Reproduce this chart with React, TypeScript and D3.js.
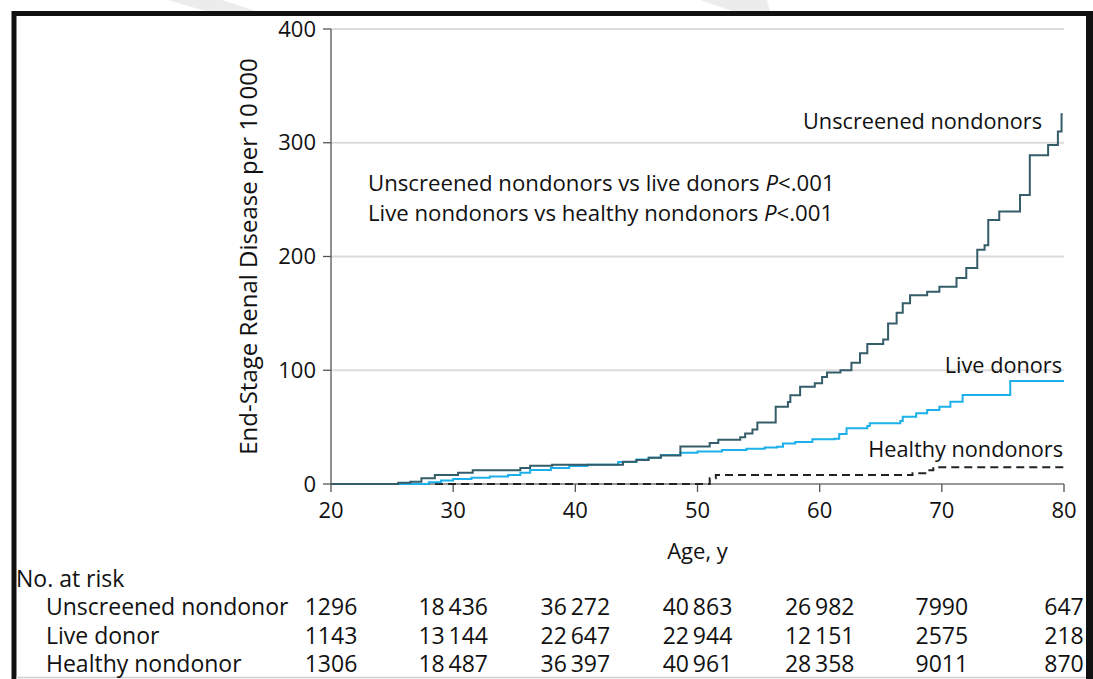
import React from "react";
import * as d3 from "d3";

const W = 1093;
const H = 679;

const xTicks = [20, 30, 40, 50, 60, 70, 80];
const yTicks = [0, 100, 200, 300, 400];

const unscreened: [number, number][] = [
  [20, 0], [25.5, 1], [26.5, 2], [27.4, 5], [28.5, 8], [30.4, 10], [31.6, 12], [35.5, 14], [36.3, 16],
  [38.1, 17], [43.9, 19.5], [45, 21], [46, 23], [47, 25], [48.6, 33], [51, 36], [51.7, 39], [53.5, 41],
  [53.9, 44.5], [54.5, 48], [54.9, 54], [56.4, 68], [57.4, 72], [57.6, 78], [58.4, 85.5], [59.6, 88.5],
  [60.2, 94], [60.6, 98], [61.7, 100], [62.6, 106.5], [63.3, 115], [63.9, 123], [65.2, 127], [65.6, 141],
  [66.3, 150.5], [66.8, 159], [67.4, 166], [68.8, 169], [69.8, 173.5], [71.2, 181], [72, 190], [72.9, 206],
  [73.5, 210], [73.8, 232], [74.7, 239.5], [76.4, 254], [77.2, 289], [78.7, 298], [79.5, 310], [79.8, 325],
  [79.9, 325],
];

const liveDonors: [number, number][] = [
  [20, 0], [27.3, 0], [28, 1.5], [29, 3], [30, 4.4], [31.5, 5.5], [33, 6.5], [34.5, 7.9], [35.5, 10],
  [36.3, 12.3], [38, 14], [39.5, 15.8], [41, 17], [43.5, 19.3], [45, 21.5], [46, 23], [47, 25.5],
  [48.6, 27.5], [50, 28.5], [52, 30], [54, 31], [55.5, 32], [56.5, 32.8], [57, 35.7], [58, 37],
  [59.4, 39.3], [61.2, 39.8], [61.6, 44], [62.2, 49], [63.9, 51], [64.1, 53.4], [66.6, 55.4],
  [66.8, 59.2], [67.9, 62.1], [68.8, 65], [69.8, 68], [70.7, 72.4], [71.7, 78.2], [75.6, 90.5], [80, 90.5],
];

const healthy: [number, number][] = [
  [20, 0], [50.5, 0], [51, 5], [51.5, 7.9], [67.6, 9.4], [68.8, 12], [69.3, 14.7], [80, 14.7],
];

const riskLabels = ["Unscreened nondonor", "Live donor", "Healthy nondonor"];
const riskUnscreened = ["1296", "18\u2009436", "36\u2009272", "40\u2009863", "26\u2009982", "7990", "647"];
const riskLive = ["1143", "13\u2009144", "22\u2009647", "22\u2009944", "12\u2009151", "2575", "218"];
const riskHealthy = ["1306", "18\u2009487", "36\u2009397", "40\u2009961", "28\u2009358", "9011", "870"];

const FONT = "'Open Sans', 'DejaVu Sans', sans-serif";
const DARK = "#355c69";
const BLUE = "#1bb0ea";

export default function App() {
  const x = d3.scaleLinear().domain([20, 80]).range([331, 1064]);
  const y = d3.scaleLinear().domain([0, 400]).range([484, 29]);
  const line = d3
    .line<[number, number]>()
    .x((d) => x(d[0]))
    .y((d) => y(d[1]))
    .curve(d3.curveStepAfter);
  const rows = [riskUnscreened, riskLive, riskHealthy];

  return (
    <svg
      width={W}
      height={H}
      style={{ position: "absolute", left: 0, top: 0, background: "#fff" }}
      fontFamily={FONT}
    >
      <rect x={0} y={0} width={W} height={H} fill="#fff" />
      {/* faint watermark stripes */}
      <polygon points="168,0 222,0 262,13 212,13" fill="#ececec" />
      <polygon points="700,0 767,0 770,12 735,12" fill="#ececec" />
      {/* frame */}
      <path d={`M14,${H} V13.5 H1089.5 V${H}`} fill="none" stroke="#111" strokeWidth={5} />
      <rect x={1086} y={11} width={7} height={H} fill="#111" />
      <line x1={16} x2={1086} y1={677.5} y2={677.5} stroke="#cfcfcf" strokeWidth={1.5} />

      {/* grid */}
      {yTicks.filter((t) => t > 0).map((t) => (
        <line key={t} x1={x(20)} x2={x(80)} y1={y(t)} y2={y(t)} stroke="#dcdcdc" strokeWidth={2} />
      ))}
      {/* axes */}
      <line x1={x(20)} x2={x(20)} y1={y(400)} y2={y(0)} stroke="#555" strokeWidth={1.3} />
      <line x1={x(20)} x2={x(80)} y1={y(0)} y2={y(0)} stroke="#777" strokeWidth={1.3} />
      {yTicks.map((t) => (
        <g key={t}>
          <line x1={x(20) - 8} x2={x(20)} y1={y(t)} y2={y(t)} stroke="#555" strokeWidth={1.3} />
          <text x={316} y={y(t)} dy="0.35em" textAnchor="end" fontSize={22} fill="#111">
            {t}
          </text>
        </g>
      ))}
      {xTicks.map((t) => (
        <g key={t}>
          <line x1={x(t)} x2={x(t)} y1={y(0)} y2={y(0) + 8} stroke="#555" strokeWidth={1.3} />
          <text x={x(t)} y={518} textAnchor="middle" fontSize={22} fill="#111">
            {t}
          </text>
        </g>
      ))}
      <text x={x(50)} y={559} textAnchor="middle" fontSize={22} fill="#111">
        Age, y
      </text>
      <text
        transform={`translate(257,${(y(0) + y(400)) / 2}) rotate(-90)`}
        textAnchor="middle"
        fontSize={24}
        fill="#111"
      >
        End-Stage Renal Disease per 10{"\u2009"}000
      </text>

      {/* curves */}
      <path d={line(healthy) || ""} fill="none" stroke="#222" strokeWidth={2} strokeDasharray="8,5" />
      <path d={line(liveDonors) || ""} fill="none" stroke={BLUE} strokeWidth={2} />
      <path d={line(unscreened) || ""} fill="none" stroke={DARK} strokeWidth={2} />

      {/* curve labels */}
      <text x={1042} y={129} textAnchor="end" fontSize={21.7} fill="#111">Unscreened nondonors</text>
      <text x={1062} y={373} textAnchor="end" fontSize={21.7} fill="#111">Live donors</text>
      <text x={1063} y={457} textAnchor="end" fontSize={21.7} fill="#111">Healthy nondonors</text>

      {/* annotation */}
      <text x={368} y={191} fontSize={22.2} fill="#111">
        Unscreened nondonors vs live donors <tspan fontStyle="italic">P</tspan>&lt;.001
      </text>
      <text x={368} y={221} fontSize={22.2} fill="#111">
        Live nondonors vs healthy nondonors <tspan fontStyle="italic">P</tspan>&lt;.001
      </text>

      {/* risk table */}
      <text x={16} y={587} fontSize={23} fill="#111">No. at risk</text>
      {riskLabels.map((lab, i) => (
        <g key={lab}>
          <text x={46} y={615 + i * 28.5} fontSize={23} fill="#111">{lab}</text>
          {rows[i].map((v, j) => (
            <text key={j} x={x(xTicks[j])} y={615 + i * 28.5} textAnchor="middle" fontSize={23} fill="#111">
              {v}
            </text>
          ))}
        </g>
      ))}
    </svg>
  );
}
